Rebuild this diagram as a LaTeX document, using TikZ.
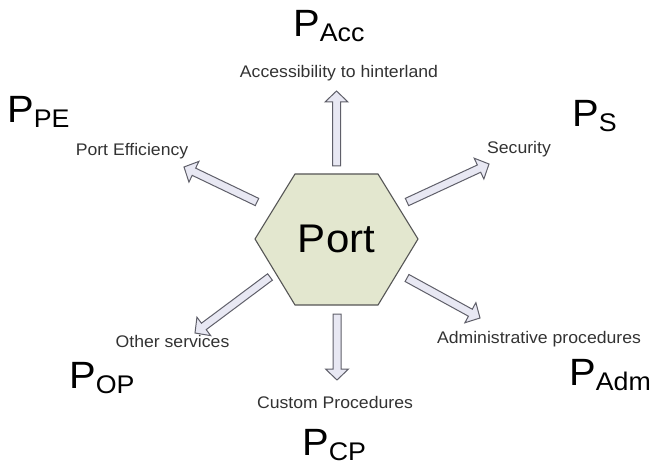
\documentclass[tikz,border=0pt]{standalone}
\usepackage{fontspec}
\setmainfont{Liberation Sans}[FakeStretch=1.05]
\usetikzlibrary{calc}

\definecolor{hexfill}{RGB}{227,231,207}
\definecolor{hexline}{RGB}{85,85,85}
\definecolor{arrfill}{RGB}{232,232,243}
\definecolor{arrline}{RGB}{95,95,105}
\definecolor{labgray}{RGB}{50,50,50}

\tikzset{
  hexa/.style={fill=hexfill, draw=hexline, line width=1.1pt, line join=miter},
  blockarrow/.style={fill=arrfill, draw=arrline, line width=1pt, line join=miter},
  lab/.style={font=\fontsize{16.8}{16.8}\selectfont, text=labgray, inner sep=0pt, anchor=base},
  bigp/.style={font=\fontsize{38}{38}\selectfont, inner sep=0pt, anchor=base west},
}
\newcommand{\psub}[1]{P{\fontsize{25.5}{25.5}\selectfont\raisebox{-5pt}{#1}}}

\begin{document}
\begin{tikzpicture}[x=1pt, y=1pt]
    \useasboundingbox (0,0) rectangle (655,466);
    % hexagon
    \draw[hexa] (295,292) -- (378,292) -- (418,227) -- (378,161) -- (295,161) -- (255,227) -- cycle;
    \node[font=\fontsize{40}{40}\selectfont, inner sep=0pt] (port) at (336.5,227) {Port};
    % arrow ends
    \coordinate (accT) at (336.5,300); \coordinate (accH) at (336.5,375);
    \coordinate (cpT)  at (337,152);   \coordinate (cpH)  at (337,86);
    \coordinate (sT)   at (407,264);   \coordinate (sH)   at (489,302);
    \coordinate (peT)  at (257,264);   \coordinate (peH)  at (184,299);
    \coordinate (opT)  at (270,189);   \coordinate (opH)  at (195,133);
    \coordinate (admT) at (407,188);   \coordinate (admH) at (480,148);
    \foreach \s/\t in {accT/accH, cpT/cpH, sT/sH, peT/peH, opT/opH, admT/admH}{
      \coordinate (hb) at ($(\t)!11pt!(\s)$);
      \draw[blockarrow] ($(\s)!4pt!-90:(\t)$) -- ($(hb)!4pt!-90:(\t)$) -- ($(hb)!11.5pt!-90:(\t)$)
        -- (\t) -- ($(hb)!11.5pt!90:(\t)$) -- ($(hb)!4pt!90:(\t)$) -- ($(\s)!4pt!90:(\t)$) -- cycle;
    }
    %labels
    \node[lab] (acc) at (339,388) {Accessibility to hinterland};
    \node[lab] (pe)  at (132,310) {Port Efficiency};
    \node[lab] (sec) at (519,312) {Security};
    \node[lab] (op)  at (172.5,119) {Other services};
    \node[lab] (adm) at (539,123) {Administrative procedures};
    \node[lab] (cp)  at (335,58) {Custom Procedures};
    \node[bigp] (pacc) at (293,429) {\psub{Acc}};
    \node[bigp] (ppe)  at (7,343)   {\psub{PE}};
    \node[bigp] (ps)   at (572,339) {\psub{S}};
    \node[bigp] (pop)  at (69,78)   {\psub{OP}};
    \node[bigp] (padm) at (569,81)  {\psub{Adm}};
    \node[bigp] (pcp)  at (302,11)  {\psub{CP}};
\end{tikzpicture}
\end{document}
